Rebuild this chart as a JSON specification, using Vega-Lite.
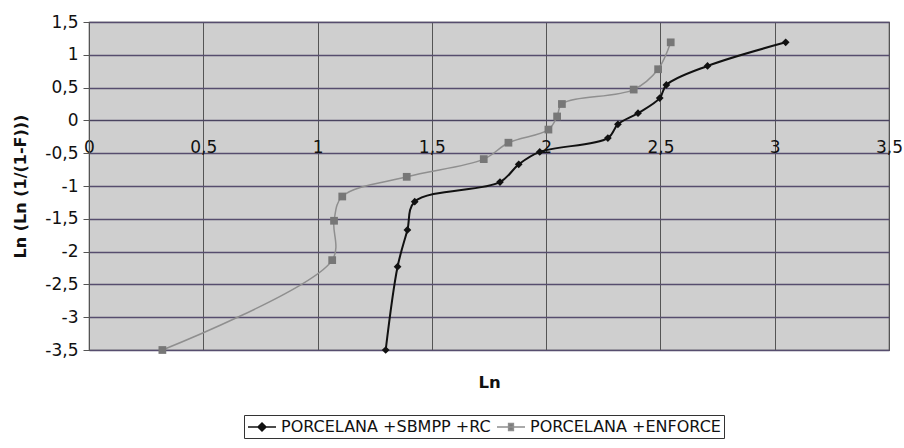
{
  "$schema": "https://vega.github.io/schema/vega-lite/v6.json",
  "width": 800,
  "height": 328,
  "autosize": {"type": "none"},
  "padding": {"left": 89, "top": 22, "right": 15, "bottom": 98},
  "background": "white",
  "config": {
    "view": {"fill": "#cfcfcf", "stroke": "#555555", "strokeWidth": 1.2},
    "font": "DejaVu Sans",
    "axis": {"labelFont": "DejaVu Sans", "titleFont": "DejaVu Sans", "labelColor": "#111111", "titleColor": "#111111"}
  },
  "data": {
    "values": [
      {"series": "PORCELANA +SBMPP +RC", "x": 1.298, "y": -3.5},
      {"series": "PORCELANA +SBMPP +RC", "x": 1.35, "y": -2.23},
      {"series": "PORCELANA +SBMPP +RC", "x": 1.393, "y": -1.67},
      {"series": "PORCELANA +SBMPP +RC", "x": 1.425, "y": -1.24},
      {"series": "PORCELANA +SBMPP +RC", "x": 1.798, "y": -0.94},
      {"series": "PORCELANA +SBMPP +RC", "x": 1.88, "y": -0.67},
      {"series": "PORCELANA +SBMPP +RC", "x": 1.972, "y": -0.48},
      {"series": "PORCELANA +SBMPP +RC", "x": 2.27, "y": -0.27},
      {"series": "PORCELANA +SBMPP +RC", "x": 2.314, "y": -0.06},
      {"series": "PORCELANA +SBMPP +RC", "x": 2.402, "y": 0.11},
      {"series": "PORCELANA +SBMPP +RC", "x": 2.497, "y": 0.34},
      {"series": "PORCELANA +SBMPP +RC", "x": 2.526, "y": 0.54},
      {"series": "PORCELANA +SBMPP +RC", "x": 2.706, "y": 0.83},
      {"series": "PORCELANA +SBMPP +RC", "x": 3.048, "y": 1.19},
      {"series": "PORCELANA +ENFORCE", "x": 0.321, "y": -3.5},
      {"series": "PORCELANA +ENFORCE", "x": 1.064, "y": -2.13},
      {"series": "PORCELANA +ENFORCE", "x": 1.072, "y": -1.53},
      {"series": "PORCELANA +ENFORCE", "x": 1.108, "y": -1.16},
      {"series": "PORCELANA +ENFORCE", "x": 1.39, "y": -0.86},
      {"series": "PORCELANA +ENFORCE", "x": 1.727, "y": -0.59},
      {"series": "PORCELANA +ENFORCE", "x": 1.835, "y": -0.34},
      {"series": "PORCELANA +ENFORCE", "x": 2.01, "y": -0.14},
      {"series": "PORCELANA +ENFORCE", "x": 2.048, "y": 0.06},
      {"series": "PORCELANA +ENFORCE", "x": 2.069, "y": 0.25},
      {"series": "PORCELANA +ENFORCE", "x": 2.383, "y": 0.47},
      {"series": "PORCELANA +ENFORCE", "x": 2.49, "y": 0.78},
      {"series": "PORCELANA +ENFORCE", "x": 2.545, "y": 1.19}
    ]
  },
  "encoding": {
    "x": {
      "field": "x", "type": "quantitative",
      "scale": {"domain": [0, 3.5], "nice": false, "zero": false},
      "axis": {
        "values": [0, 0.5, 1, 1.5, 2, 2.5, 3, 3.5],
        "labelExpr": "replace(datum.value + '', '.', ',')",
        "orient": "bottom", "offset": -230,
        "grid": true, "gridColor": "#555555", "gridWidth": 1, "gridOpacity": 1,
        "domain": true, "domainColor": "#4a4460", "domainWidth": 1.2,
        "ticks": false, "labelPadding": 19, "labelFontSize": 17, "labelFlush": false,
        "title": "Ln", "titleFontSize": 16.5, "titleFontWeight": "bold",
        "titleY": 262, "titleBaseline": "middle", "titleX": 400
      }
    },
    "y": {
      "field": "y", "type": "quantitative",
      "scale": {"domain": [-3.5, 1.5], "nice": false, "zero": false},
      "axis": {
        "values": [-3.5, -3, -2.5, -2, -1.5, -1, -0.5, 0, 0.5, 1, 1.5],
        "labelExpr": "replace(datum.value + '', '.', ',')",
        "grid": true, "gridColor": "#564d6e", "gridWidth": 1.3, "gridOpacity": 1,
        "domain": true, "domainColor": "#555555",
        "ticks": true, "tickSize": 6, "tickColor": "#555555",
        "labelPadding": 5, "labelFontSize": 17,
        "title": "Ln (Ln (1/(1-F)))", "titleFontSize": 16, "titleFontWeight": "bold",
        "titleX": -69, "titleBaseline": "middle"
      }
    }
  },
  "layer": [
    {
      "mark": {"type": "line", "interpolate": "catmull-rom"},
      "encoding": {
        "strokeWidth": {"condition": {"test": "datum.series === 'PORCELANA +ENFORCE'", "value": 1.5}, "value": 2},
        "color": {
          "field": "series", "type": "nominal",
          "scale": {"domain": ["PORCELANA +SBMPP +RC", "PORCELANA +ENFORCE"], "range": ["#111111", "#8f8f8f"]},
          "legend": {
            "title": null, "orient": "none", "legendX": 155, "legendY": 393,
            "direction": "horizontal", "strokeColor": "#333333", "padding": 3,
            "labelFontSize": 16, "labelColor": "#111111", "labelFont": "DejaVu Sans", "labelLimit": 0,
            "symbolSize": 256, "symbolStrokeWidth": 1.5, "labelOffset": 16, "columnPadding": 3,
            "symbolType": "M-1,0H2.5",
            "encode": {
              "symbols": {
                "update": {
                  "shape": {"signal": "datum.value === 'PORCELANA +ENFORCE' ? 'M-1,0H2.5M0.45,-0.45H1.05V0.45H0.45Z' : 'M-1,0H2.5M0.75,-0.5L1.25,0L0.75,0.5L0.25,0Z'"},
                  "fill": {"signal": "datum.value === 'PORCELANA +ENFORCE' ? '#7a7a7a' : '#111111'"},
                  "stroke": {"signal": "datum.value === 'PORCELANA +ENFORCE' ? '#8f8f8f' : '#111111'"},
                  "fillOpacity": {"value": 1},
                  "strokeOpacity": {"value": 1}
                }
              }
            }
          }
        }
      }
    },
    {
      "transform": [{"filter": "datum.series === 'PORCELANA +SBMPP +RC'"}],
      "mark": {"type": "point", "filled": true, "shape": "diamond", "size": 60, "opacity": 1, "color": "#111111"}
    },
    {
      "transform": [{"filter": "datum.series === 'PORCELANA +ENFORCE'"}],
      "mark": {"type": "point", "filled": true, "shape": "square", "size": 60, "opacity": 1, "color": "#777777"}
    }
  ]
}
